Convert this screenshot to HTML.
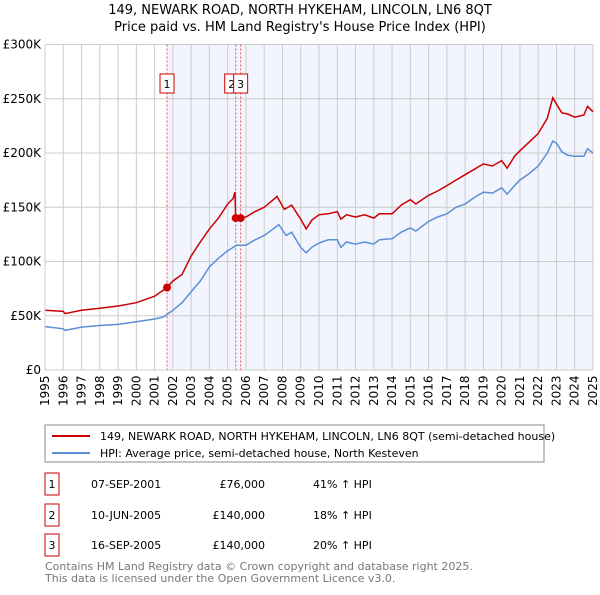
<!DOCTYPE html>
<html><head><meta charset="utf-8"><style>
body{margin:0;background:#fff;font-family:"Liberation Sans","DejaVu Sans",sans-serif;}
svg text{font-family:"DejaVu Sans","Liberation Sans",sans-serif;}
</style></head><body>
<svg id="chart" width="600" height="590" xmlns="http://www.w3.org/2000/svg">
<text x="300" y="14" text-anchor="middle" font-size="13">149, NEWARK ROAD, NORTH HYKEHAM, LINCOLN, LN6 8QT</text>
<text x="300" y="31" text-anchor="middle" font-size="13">Price paid vs. HM Land Registry's House Price Index (HPI)</text>
<g id="plot"></g>
<g>
<rect x="45" y="425" width="499" height="37" fill="#fff" stroke="#888"/>
<line x1="52" y1="436" x2="90" y2="436" stroke="#cc0000" stroke-width="2"/>
<text x="100" y="440" font-size="11">149, NEWARK ROAD, NORTH HYKEHAM, LINCOLN, LN6 8QT (semi-detached house)</text>
<line x1="52" y1="453" x2="90" y2="453" stroke="#5b8fd6" stroke-width="2"/>
<text x="100" y="457" font-size="11">HPI: Average price, semi-detached house, North Kesteven</text>
</g>
<g id="table" font-size="11"></g>
<text x="45" y="570" font-size="11" fill="#777">Contains HM Land Registry data © Crown copyright and database right 2025.</text>
<text x="45" y="582" font-size="11" fill="#777">This data is licensed under the Open Government Licence v3.0.</text>
</svg>
<script>
const hpiT=[1995,1996,1996.1,1997,1998,1999,2000,2001,2001.5,2002,2002.5,2003,2003.5,2004,2004.5,2005,2005.5,2006,2006.5,2007,2007.5,2007.8,2008.2,2008.5,2009,2009.3,2009.6,2010,2010.5,2011,2011.2,2011.5,2012,2012.5,2013,2013.3,2014,2014.5,2015,2015.3,2016,2016.5,2017,2017.5,2018,2018.5,2019,2019.5,2020,2020.3,2020.7,2021,2021.5,2022,2022.5,2022.8,2023,2023.3,2023.6,2024,2024.5,2024.7,2025];
const hpiV=[40,38,36.5,39.5,41,42,44.5,47,49,55,62,72,82,95,103,110,115,115,120,124,130,134,124,127,113,108,113,117,120,120,113,118,116,118,116,120,121,127,131,128,137,141,144,150,153,159,164,163,168,162,170,175,181,188,200,211,209,201,198,197,197,204,200];
const priceT=[1995,1996,1996.1,1997,1998,1999,2000,2001,2001.68,2002,2002.5,2003,2003.5,2004,2004.5,2005,2005.3,2005.4,2005.44,2006,2006.5,2007,2007.5,2007.7,2008.1,2008.5,2009,2009.3,2009.6,2010,2010.5,2011,2011.2,2011.5,2012,2012.5,2013,2013.3,2014,2014.5,2015,2015.3,2016,2016.5,2017,2017.5,2018,2018.5,2019,2019.5,2020,2020.3,2020.7,2021,2021.5,2022,2022.5,2022.8,2023,2023.3,2023.6,2024,2024.5,2024.7,2025];
const priceV=[55,54,52,55,57,59,62,68,76,82,88,105,118,130,140,153,158,164,140,141,146,150,157,160,148,152,139,130,138,143,144,146,139,143,141,143,140,144,144,152,157,153,161,165,170,175,180,185,190,188,193,186,197,202,210,218,232,251,245,237,236,233,235,243,238];
const saleT=[2001.68,2005.44,2005.71];
const saleV=[76,140,140];
const saleLabels=["1","2","3"];
const saleDates=["07-SEP-2001","10-JUN-2005","16-SEP-2005"];
const salePrices=["£76,000","£140,000","£140,000"];
const saleHpi=["41% ↑ HPI","18% ↑ HPI","20% ↑ HPI"];
const yTicks=[0,50,100,150,200,250,300];
const yTickLabels=["£0","£50K","£100K","£150K","£200K","£250K","£300K"];
const years=[];for(let y=1995;y<=2025;y++)years.push(y);

const X0=45,X1=593,Y0=370,Y1=44.5;
const x=t=>X0+(t-1995)/30*(X1-X0);
const y=v=>Y0-v/300*(Y0-Y1);
const NS="http://www.w3.org/2000/svg";
const plot=document.getElementById('plot');
function mk(tag,attrs,parent){const e=document.createElementNS(NS,tag);for(const k in attrs)e.setAttribute(k,attrs[k]);(parent||plot).appendChild(e);return e;}

const bg=mk('rect',{x:X0,y:Y1,width:X1-X0,height:Y0-Y1,fill:'#fff'});


const sh=mk('rect',{x:x(saleT[0]),y:Y1,width:X1-x(saleT[0]),height:Y0-Y1,fill:'#f2f5fd'});


years.forEach(yr=>{
  const l=mk('line',{x1:x(yr),x2:x(yr),y1:Y1,y2:Y0,stroke:'#ccc','stroke-width':1});
  
  
  const cx=x(yr)+4, cy=Y0+36;
  const t=mk('text',{x:cx,y:cy,'font-size':12,transform:'rotate(-90 '+cx+' '+cy+')'});
  t.textContent=yr;
  
  
});
yTicks.forEach((v,i)=>{
  const l=mk('line',{x1:X0,x2:X1,y1:y(v),y2:y(v),stroke:'#ccc','stroke-width':1});
  
  
  const t=mk('text',{x:X0-4,y:y(v)+4,'font-size':12,'text-anchor':'end'});
  t.textContent=yTickLabels[i];
  
  
});
saleT.forEach((t,i)=>{
  const l=mk('line',{x1:x(t),x2:x(t),y1:Y1,y2:Y0,stroke:'#e05555','stroke-dasharray':'2,2','stroke-width':1});
  
  
});
const pts=(T,V)=>T.map((t,i)=>x(t).toFixed(1)+','+y(V[i]).toFixed(1)).join(' ');
const hl=mk('polyline',{points:pts(hpiT,hpiV),fill:'none',stroke:'#5b8fd6','stroke-width':1.5});


const pl=mk('polyline',{points:pts(priceT,priceV),fill:'none',stroke:'#cc0000','stroke-width':1.5});


saleT.forEach((t,i)=>{
  const c=mk('circle',{cx:x(t),cy:y(saleV[i]),r:4,fill:'#cc0000'});
  
  
});
const boxX=[x(saleT[0])-7,x(saleT[1])-11,x(saleT[2])-7];
saleT.forEach((t,i)=>{
  const g=mk('g',{});
  
  
  mk('rect',{x:boxX[i],y:74,width:14,height:19,fill:'#fff',stroke:'#cc0000'},g);
  const tx=mk('text',{x:boxX[i]+7,y:88,'font-size':11,'text-anchor':'middle'},g);
  tx.textContent=saleLabels[i];
});
mk('line',{x1:X0,x2:X0,y1:Y1,y2:Y0,stroke:'#ccc'});
const tbl=document.getElementById('table');
const rowY=[484,515,545];
saleLabels.forEach((s,i)=>{
  const g=mk('g',{},tbl);
  
  
  mk('rect',{x:45,y:rowY[i]-11,width:14,height:22,fill:'#fff',stroke:'#cc0000'},g);
  let t=mk('text',{x:52,y:rowY[i]+4,'text-anchor':'middle'},g);t.textContent=s;
  t=mk('text',{x:91,y:rowY[i]+4},g);t.textContent=saleDates[i];
  t=mk('text',{x:265,y:rowY[i]+4,'text-anchor':'end'},g);t.textContent=salePrices[i];
  t=mk('text',{x:313,y:rowY[i]+4},g);t.textContent=saleHpi[i];
});
</script>
</body></html>
